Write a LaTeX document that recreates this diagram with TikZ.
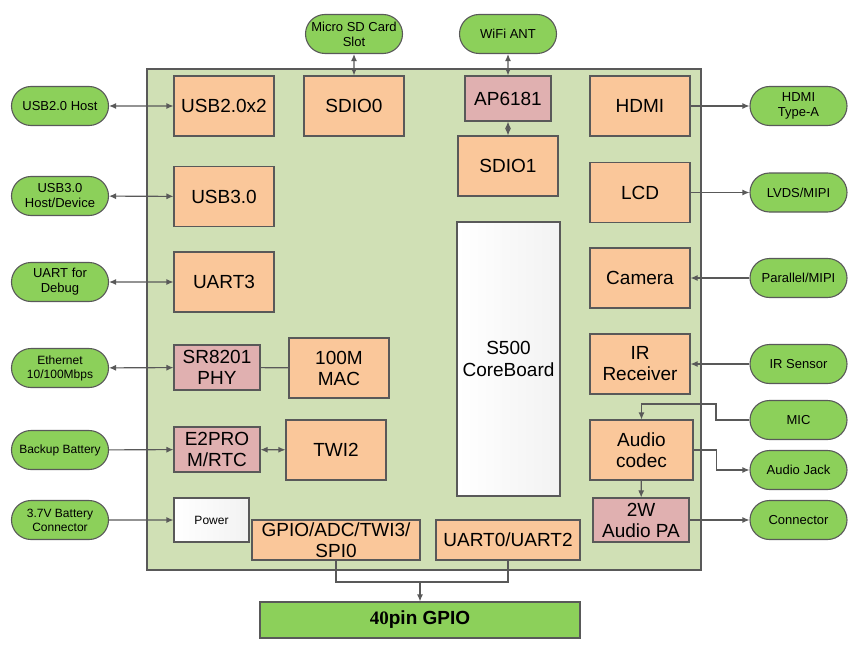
\documentclass[tikz,border=0pt]{standalone}
\usepackage{fontspec}
\setmainfont{Liberation Sans}
\newfontfamily\pinserif{Liberation Serif}
\usetikzlibrary{shapes.misc, arrows.meta, positioning}
\definecolor{linegray}{HTML}{595959}
\definecolor{boardgreen}{HTML}{D0E0B5}
\definecolor{portgreen}{HTML}{8CD05A}
\definecolor{blockorange}{HTML}{FAC79A}
\definecolor{chippink}{HTML}{E0B0B0}

\begin{document}
\begin{tikzpicture}[x=1pt, y=-1pt, >={Latex[length=7pt,width=6pt]}, line width=1.1pt]
\tikzstyle{port} = [rounded rectangle, minimum width=99pt, minimum height=39pt, inner sep=1pt, align=center, draw=linegray, fill=portgreen, font=\fontsize{13}{15}\selectfont]
\tikzstyle{block} = [rectangle, minimum width=100pt, minimum height=60pt, inner sep=1pt, align=center, draw=linegray, fill=blockorange, font=\fontsize{19}{21}\selectfont]
\tikzstyle{chip} = [block, minimum width=86pt, minimum height=45pt, fill=chippink]
\tikzstyle{plain} = [block, left color=white, right color=gray!10]
\tikzstyle{wire} = [draw=linegray]

\useasboundingbox (0,0) rectangle (858,655);

% board
\node (board) [rectangle, draw=linegray, fill=boardgreen, minimum width=554pt, minimum height=501pt] at (424,319.5) {};

% left side
\node (usbhost) [port] at (60,106) {USB2.0 Host};
\node (usbdev) [port] at (60,196) {USB3.0\\Host/Device};
\node (debug) [port] at (60,282) {UART for\\Debug};
\node (eth) [port, font=\fontsize{12}{14}\selectfont] at (60,368) {Ethernet\\10/100Mbps};
\node (battery) [port, font=\fontsize{12}{14}\selectfont] at (60,450) {Backup Battery};
\node (batin) [port, font=\fontsize{12}{14}\selectfont] at (60,520) {3.7V Battery\\Connector};

\node (usb2) [block] at (224,106) {USB2.0x2};
\node (usb3) [block] at (224,196.5) {USB3.0};
\node (uart3) [block] at (224,282) {UART3};
\node (phy) [chip] at (217,367.5) {SR8201\\PHY};
\node (mac) [block] at (339,368) {100M\\MAC};
\node (rtc) [chip] at (217,449.5) {E2PRO\\M/RTC};
\node (twi2) [block] at (336,450) {TWI2};
\node (power) [plain, minimum width=75pt, minimum height=44pt, font=\fontsize{12}{14}\selectfont] at (211.5,520) {Power};

% top
\node (sdslot) [port] at (354,34) {Micro SD Card\\Slot};
\node (wifi) [port] at (508,34) {WiFi ANT};
\node (sdio0) [block] at (354,106) {SDIO0};
\node (ap6181) [chip] at (508,98.5) {AP6181};
\node (sdio1) [block] at (508,166) {SDIO1};
\node (core) [plain, minimum width=103pt, minimum height=274pt, font=\fontsize{19}{22}\selectfont] at (508.5,359) {S500\\CoreBoard};

% right side
\node (hdmi) [block] at (640,106) {HDMI};
\node (lcd) [block] at (640,192.5) {LCD};
\node (camera) [block] at (640,278) {Camera};
\node (irrx) [block] at (640,364) {IR\\Receiver};
\node (codec) [block, minimum width=103pt] at (641.5,450) {Audio\\codec};
\node (amp) [chip, minimum width=96pt, minimum height=44pt] at (641,520) {2W\\Audio PA};

\node (hdmiout) [port] at (798.5,106) {HDMI\\Type-A};
\node (lvds) [port] at (798.5,192.5) {LVDS/MIPI};
\node (parallel) [port] at (798.5,278) {Parallel/MIPI};
\node (irsensor) [port] at (798.5,364) {IR Sensor};
\node (mic) [port] at (798.5,420) {MIC};
\node (jack) [port] at (798.5,470) {Audio Jack};
\node (speaker) [port] at (798.5,520) {Connector};

% bottom
\node (gpio) [block, minimum width=168pt, minimum height=40pt] at (336,540) {GPIO/ADC/TWI3/\\SPI0};
\node (uart02) [block, minimum width=144pt, minimum height=40pt] at (508,540) {UART0/UART2};
\node (pins) [rectangle, draw=linegray, fill=portgreen, minimum width=320pt, minimum height=36pt, font=\fontsize{19}{21}\selectfont\bfseries] at (420,620) {{\pinserif 40}pin GPIO};

\coordinate (micbend) at (716,404);
\coordinate (gpiojoin) at (420,582);

% Draw arrows
\foreach \a/\b in {usbhost/usb2, usbdev/usb3, debug/uart3, eth/phy, rtc/twi2} {
    \draw[wire, <->] (\a) -- (\b);
}
\foreach \a/\b in {battery/rtc, batin/power, hdmi/hdmiout, lcd/lvds, parallel/camera, irsensor/irrx, amp/speaker, codec/amp} {
    \draw[wire, ->] (\a) -- (\b);
}
\draw[wire, <->] (sdslot) -- (sdio0);
\draw[wire, <->] (wifi) -- (ap6181);
\draw[wire, <->] (ap6181) -- (sdio1);
\draw[wire] (phy) -- (mac);
\draw[wire, ->] (mic.west) -| (micbend) -| (codec.north);
\draw[wire, ->] (codec.east) -- ++(23,0) |- (jack.west);
\draw[wire] (gpio.south) |- (gpiojoin) -| (uart02.south);
\draw[wire, ->] (gpiojoin) -- (pins.north);

\end{tikzpicture}
\end{document}
